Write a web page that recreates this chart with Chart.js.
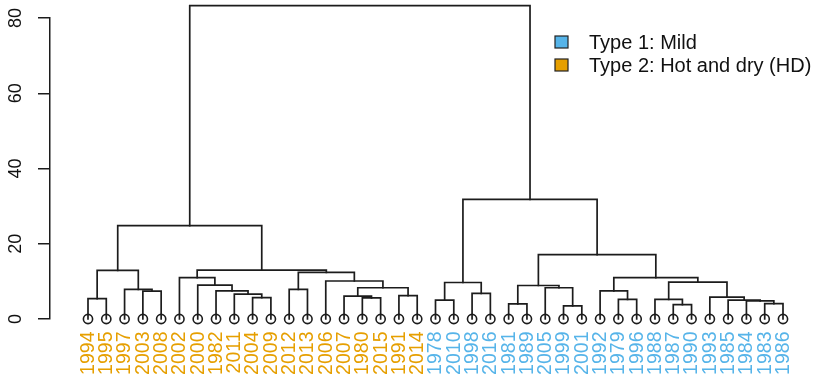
<!DOCTYPE html>
<html>
<head>
<meta charset="utf-8">
<script src="https://cdn.jsdelivr.net/npm/chart.js@4/dist/chart.umd.min.js"></script>
<style>
html,body{margin:0;padding:0;background:#fff;}
#wrap{width:818px;height:380px;position:relative;}
</style>
</head>
<body>
<div id="wrap"><canvas id="c" width="818" height="380"></canvas></div>
<script>
// ---- data ----
const leafLabels = ['1994','1995','1997','2003','2008','2002','2000','1982','2011','2004','2009','2012','2013','2006','2007','1980','2015','1991','2014',
  '1978','2010','1998','2016','1981','1989','2005','1999','2001','1992','1979','1996','1988','1987','1990','1993','1985','1984','1983','1986'];
const leafType = [2,2,2,2,2,2,2,2,2,2,2,2,2,2,2,2,2,2,2,
  1,1,1,1,1,1,1,1,1,1,1,1,1,1,1,1,1,1,1,1];
// merges: strings = leaf labels, numbers = earlier merge step (1-based)
const mergeLeft  = ['1994','2003','1997',1,'2004','2011','1982','2000','2002','2012','1980','2007','1991',12,'2006',10,9,4,
  '1978','1998',19,'1981','1999','2005',22,'1979','1992','1987','1988','1983','1984','1985','1993',29,27,25,21,18];
const mergeRight = ['1995','2008',2,3,'2009',5,6,7,8,'2013','2015',11,'2014',13,14,15,16,17,
  '2010','2016',20,'1989','2001',23,24,'1996',26,'1990',28,'1986',30,31,32,33,34,35,36,37];
const mergeHeight = [5.4,7.4,7.9,12.9,5.7,6.6,7.5,9.0,11.0,7.9,5.6,6.1,6.2,8.3,10.1,12.4,13.0,24.8,
  5.0,6.8,9.7,4.0,3.5,8.3,8.9,5.2,7.5,3.8,5.2,4.1,4.8,5.0,5.8,9.8,11.0,17.1,31.8,83.3];
const yTicks = [0,20,40,60,80];
const typeNames = ['Type 1: Mild','Type 2: Hot and dry (HD)'];
const typeColors = {1:'#56B4E9', 2:'#E69F00'};

// ---- build dendrogram segments ----
const nodeX = [], nodeH = [];
function childPos(c){
  if (typeof c === 'string') return {x: leafLabels.indexOf(c), h: 0};
  return {x: nodeX[c-1], h: nodeH[c-1]};
}
const lineColor = '#1c1c1c';
const datasets = [];
for (let i=0;i<mergeHeight.length;i++){
  const L = childPos(mergeLeft[i]), R = childPos(mergeRight[i]), h = mergeHeight[i];
  nodeX.push((L.x+R.x)/2); nodeH.push(h);
  datasets.push({
    type:'line',
    data:[{x:L.x,y:L.h},{x:L.x,y:h},{x:R.x,y:h},{x:R.x,y:R.h}],
    borderColor:lineColor, borderWidth:1.7, pointRadius:0, fill:false, tension:0,
    clip:false, borderCapStyle:'square', borderJoinStyle:'miter'
  });
}
datasets.push({
  type:'scatter',
  data: leafLabels.map((l,i)=>({x:i,y:0})),
  pointRadius:4.6, pointBorderWidth:1.6, pointBorderColor:lineColor,
  pointBackgroundColor:'rgba(0,0,0,0)', showLine:false, clip:false
});

const FONT = '"Liberation Sans", Arial, sans-serif';
const textPlugin = {
  id:'texts',
  afterDraw(chart){
    const ctx = chart.ctx, xs = chart.scales.x, ys = chart.scales.y;
    ctx.save();
    // y tick labels (rotated)
    ctx.fillStyle = '#111';
    ctx.font = '18px ' + FONT;
    ctx.textAlign = 'center'; ctx.textBaseline = 'middle';
    yTicks.forEach(v=>{
      ctx.save();
      ctx.translate(16, ys.getPixelForValue(v));
      ctx.rotate(-Math.PI/2);
      ctx.fillText(String(v),0,0);
      ctx.restore();
    });
    // leaf labels
    ctx.textAlign = 'right';
    ctx.font = '19.5px ' + FONT;
    const y0 = ys.getPixelForValue(0) + 12.5;
    leafLabels.forEach((l,i)=>{
      ctx.save();
      ctx.fillStyle = typeColors[leafType[i]];
      ctx.translate(xs.getPixelForValue(i)+0.5, y0);
      ctx.rotate(-Math.PI/2);
      ctx.fillText(l,0,0);
      ctx.restore();
    });
    // legend
    ctx.textAlign = 'left';
    ctx.font = '20px ' + FONT;
    [1,2].forEach((t,k)=>{
      const yy = 42 + k*23;
      ctx.fillStyle = typeColors[t];
      ctx.fillRect(555, yy-6, 13, 12);
      ctx.strokeStyle = '#222'; ctx.lineWidth = 1.2;
      ctx.strokeRect(555, yy-6, 13, 12);
      ctx.fillStyle = '#111';
      ctx.fillText(typeNames[k], 589, yy+1);
    });
    ctx.restore();
  }
};

new Chart(document.getElementById('c'), {
  type:'line',
  data:{datasets},
  options:{
    responsive:false, animation:false, devicePixelRatio:1,
    layout:{autoPadding:false, padding:{left:0,right:0,top:18,bottom:61}},
    plugins:{legend:{display:false}, tooltip:{enabled:false}},
    scales:{
      x:{type:'linear', display:false, min:-38/18.289, max:38+35/18.289},
      y:{type:'linear', min:0, max:80,
         ticks:{display:false, stepSize:20},
         grid:{drawOnChartArea:false, drawTicks:true, tickLength:12, color:lineColor, lineWidth:1.5},
         border:{display:true, color:lineColor, width:1.5},
         afterFit(s){ s.width = 50; }
      }
    }
  },
  plugins:[textPlugin]
});
</script>
</body>
</html>
